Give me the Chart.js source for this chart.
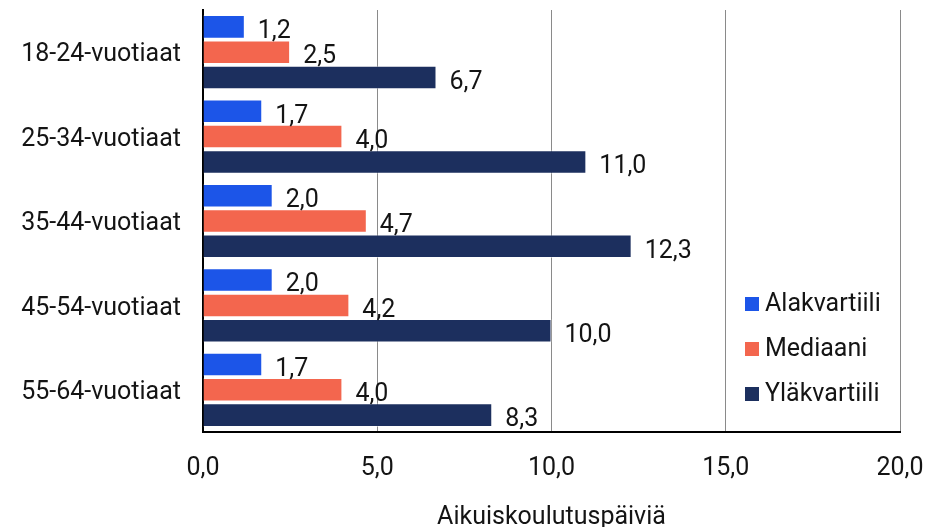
<!DOCTYPE html>
<html>
<head>
<meta charset="utf-8">
<script src="https://cdn.jsdelivr.net/npm/chart.js"></script>
<style>
  html, body { margin: 0; padding: 0; background: #fff; }
  #wrap { position: relative; width: 926px; height: 527px; }
</style>
</head>
<body>
<div id="wrap"><canvas id="myChart" width="926" height="527"></canvas></div>
<script>
// data
var categories = ["18-24-vuotiaat", "25-34-vuotiaat", "35-44-vuotiaat", "45-54-vuotiaat", "55-64-vuotiaat"];
var seriesNames = ["Alakvartiili", "Mediaani", "Yläkvartiili"];
var lowerQuartile = [1.2, 1.7, 2.0, 2.0, 1.7];
var median = [2.5, 4.0, 4.7, 4.2, 4.0];
var upperQuartile = [6.7, 11.0, 12.3, 10.0, 8.3];
var xTicks = [0, 5, 10, 15, 20];
var axisTitle = "Aikuiskoulutuspäiviä";

var colors = ["#1c55e8", "#f3664e", "#1c2f5e"];
var fontFamily = "Roboto, 'Noto Sans', sans-serif";
var textColor = "#141414";

function fi(v) {
  return v.toFixed(1).replace(".", ",");
}

// value labels next to each bar end
var valueLabels = {
  id: "valueLabels",
  afterDatasetsDraw: function (chart) {
    var ctx = chart.ctx;
    ctx.save();
    ctx.font = "25px " + fontFamily;
    ctx.fillStyle = textColor;
    ctx.textAlign = "left";
    ctx.textBaseline = "middle";
    chart.data.datasets.forEach(function (ds, i) {
      var meta = chart.getDatasetMeta(i);
      meta.data.forEach(function (bar, j) {
        ctx.fillText(fi(ds.data[j]), bar.x + 13, bar.y + 5);
      });
    });
    ctx.restore();
  }
};

// legend drawn inside the plot area, lower right
var innerLegend = {
  id: "innerLegend",
  afterDraw: function (chart) {
    var ctx = chart.ctx;
    var area = chart.chartArea;
    var x = area.right - 155;
    var y = area.bottom - 128;
    ctx.save();
    ctx.font = "25px " + fontFamily;
    ctx.textAlign = "left";
    ctx.textBaseline = "middle";
    chart.data.datasets.forEach(function (ds, i) {
      var cy = y + i * 45;
      ctx.fillStyle = ds.backgroundColor;
      ctx.fillRect(x, cy - 7, 14, 14);
      ctx.fillStyle = textColor;
      ctx.fillText(ds.label, x + 20, cy + 1);
    });
    ctx.restore();
  }
};

var ctx = document.getElementById("myChart").getContext("2d");
var myChart = new Chart(ctx, {
  type: "bar",
  data: {
    labels: categories,
    datasets: [
      { label: seriesNames[0], data: lowerQuartile, backgroundColor: colors[0] },
      { label: seriesNames[1], data: median, backgroundColor: colors[1] },
      { label: seriesNames[2], data: upperQuartile, backgroundColor: colors[2] }
    ].map(function (d) {
      d.borderColor = "rgba(255,255,255,0.5)";
      d.borderWidth = 1;
      d.categoryPercentage = 0.9;
      d.barPercentage = 0.93;
      return d;
    })
  },
  options: {
    indexAxis: "y",
    responsive: false,
    animation: false,
    layout: { padding: { top: 10, right: 26, bottom: 0, left: 0 } },
    plugins: {
      legend: { display: false },
      tooltip: { enabled: false }
    },
    scales: {
      x: {
        min: xTicks[0],
        max: xTicks[xTicks.length - 1],
        afterBuildTicks: function (scale) {
          scale.ticks = xTicks.map(function (v) { return { value: v }; });
        },
        afterFit: function (scale) {
          scale.height = 95;
          scale.paddingLeft = 0;
          scale.paddingRight = 0;
        },
        grid: { color: "#8a8a8a", lineWidth: 1, drawTicks: false },
        border: { color: "#000", width: 2 },
        ticks: {
          padding: 22,
          color: textColor,
          font: { size: 25, family: fontFamily },
          callback: function (v) { return fi(v); }
        },
        title: {
          display: true,
          text: axisTitle,
          color: textColor,
          padding: { top: 0, bottom: -6 },
          font: { size: 25, family: fontFamily }
        }
      },
      y: {
        afterFit: function (scale) {
          scale.width = 203;
          scale.paddingTop = 0;
          scale.paddingBottom = 0;
        },
        grid: { display: false, drawTicks: false },
        border: { color: "#000", width: 2 },
        ticks: {
          padding: 22,
          labelOffset: 3,
          color: textColor,
          font: { size: 25, family: fontFamily }
        }
      }
    }
  },
  plugins: [valueLabels, innerLegend]
});
</script>
</body>
</html>
